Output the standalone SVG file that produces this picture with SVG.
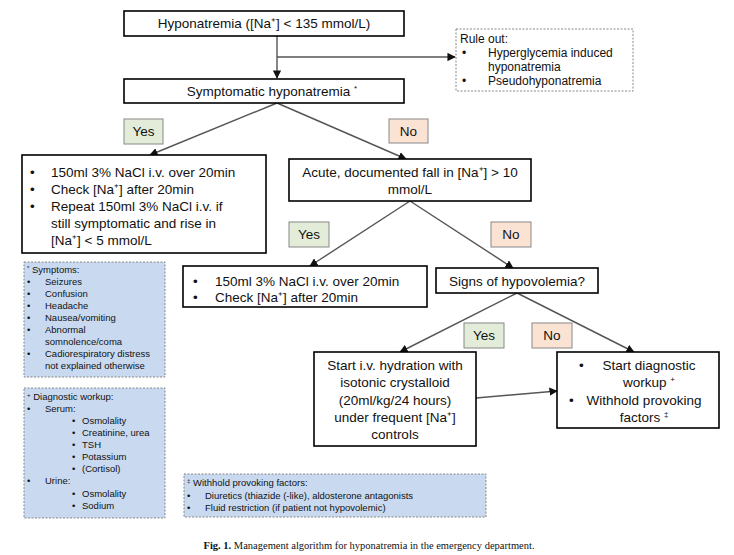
<svg xmlns="http://www.w3.org/2000/svg" width="734" height="555" viewBox="0 0 734 555">
<defs>
<style>
.b{fill:#fff;stroke:#000;stroke-width:1.6}
.d{fill:#c9daf0;stroke:#888;stroke-width:1;stroke-dasharray:2 1.5}
.r{fill:#fff;stroke:#888;stroke-width:1;stroke-dasharray:2 1.5}
.y{fill:#e3ecd9;stroke:#888;stroke-width:1}
.n{fill:#fbe3d4;stroke:#888;stroke-width:1}
text{font-family:"Liberation Sans",Arial,sans-serif;fill:#111}
.t{font-size:13.5px}
.s{font-size:9.5px}
.c{text-anchor:middle}
.l{stroke:#555;stroke-width:1.4;fill:none}
</style>
<marker id="a" viewBox="0 0 10 10" refX="9" refY="5" markerWidth="6" markerHeight="6" orient="auto"><path d="M0,0L10,5L0,10z" fill="#111"/></marker>
</defs>
<rect width="734" height="555" fill="#fff"/>
<g id="connectors">
<line class="l" x1="277" y1="36" x2="277" y2="78" marker-end="url(#a)"/>
<line class="l" x1="277" y1="57" x2="455" y2="57" marker-end="url(#a)"/>
<line class="l" x1="277" y1="103" x2="150" y2="155" marker-end="url(#a)"/>
<line class="l" x1="277" y1="103" x2="406" y2="159" marker-end="url(#a)"/>
<line class="l" x1="410" y1="201" x2="310" y2="266" marker-end="url(#a)"/>
<line class="l" x1="410" y1="201" x2="513" y2="268" marker-end="url(#a)"/>
<line class="l" x1="517" y1="293" x2="400" y2="352" marker-end="url(#a)"/>
<line class="l" x1="517" y1="293" x2="634" y2="352" marker-end="url(#a)"/>
<line class="l" x1="476" y1="398" x2="557" y2="391" marker-end="url(#a)"/>
</g>
<g id="n1"><rect class="b" x="124" y="11" width="280" height="25"/><text class="t c" x="264" y="28">Hyponatremia ([Na⁺] &lt; 135 mmol/L)</text></g>
<g id="ruleout"><rect class="r" x="456" y="29" width="177" height="62"/>
<text class="t" x="460" y="43" style="font-size:12px">Rule out:</text>
<text class="t" x="462" y="57" style="font-size:12px">•</text><text class="t" x="488" y="57" style="font-size:12px">Hyperglycemia induced</text>
<text class="t" x="488" y="71" style="font-size:12px">hyponatremia</text>
<text class="t" x="462" y="85" style="font-size:12px">•</text><text class="t" x="488" y="85" style="font-size:12px">Pseudohyponatremia</text></g>
<g id="n2"><rect class="b" x="124" y="79" width="280" height="24"/><text class="t c" x="272" y="96">Symptomatic hyponatremia <tspan font-size="8" dy="-5">*</tspan></text></g>
<g id="yes1"><rect class="y" x="124" y="119" width="39" height="25"/><text class="t c" x="143.5" y="136">Yes</text></g>
<g id="no1"><rect class="n" x="389" y="119" width="39" height="24"/><text class="t c" x="408.5" y="136">No</text></g>
<g id="n3"><rect class="b" x="22" y="155" width="244" height="98"/>
<text class="t" x="30" y="177">•</text><text class="t" x="51" y="177">150ml 3% NaCl i.v. over 20min</text>
<text class="t" x="30" y="194">•</text><text class="t" x="51" y="194">Check [Na⁺] after 20min</text>
<text class="t" x="30" y="211">•</text><text class="t" x="51" y="211">Repeat 150ml 3% NaCl i.v. if</text>
<text class="t" x="51" y="228">still symptomatic and rise in</text>
<text class="t" x="51" y="245">[Na⁺] &lt; 5 mmol/L</text></g>
<g id="n4"><rect class="b" x="289" y="159" width="242" height="42"/>
<text class="t c" x="410" y="177">Acute, documented fall in [Na⁺] &gt; 10</text>
<text class="t c" x="410" y="194">mmol/L</text></g>
<g id="yes2"><rect class="y" x="289" y="222" width="40" height="25"/><text class="t c" x="309" y="239">Yes</text></g>
<g id="no2"><rect class="n" x="491" y="222" width="40" height="25"/><text class="t c" x="511" y="239">No</text></g>
<g id="n5"><rect class="b" x="183" y="266" width="244" height="41"/>
<text class="t" x="193" y="286">•</text><text class="t" x="215" y="286">150ml 3% NaCl i.v. over 20min</text>
<text class="t" x="193" y="302">•</text><text class="t" x="215" y="302">Check [Na⁺] after 20min</text></g>
<g id="n6"><rect class="b" x="436" y="268" width="162" height="25"/><text class="t c" x="517" y="286">Signs of hypovolemia?</text></g>
<g id="yes3"><rect class="y" x="464" y="323" width="40" height="25"/><text class="t c" x="484" y="340">Yes</text></g>
<g id="no3"><rect class="n" x="532" y="323" width="40" height="25"/><text class="t c" x="552" y="340">No</text></g>
<g id="n7"><rect class="b" x="314" y="352" width="162" height="94"/>
<text class="t c" x="395" y="370">Start i.v. hydration with</text>
<text class="t c" x="395" y="387">isotonic crystalloid</text>
<text class="t c" x="395" y="405">(20ml/kg/24 hours)</text>
<text class="t c" x="395" y="422">under frequent [Na⁺]</text>
<text class="t c" x="395" y="439">controls</text></g>
<g id="n8"><rect class="b" x="557" y="352" width="162" height="76"/>
<text class="t" x="579" y="370">•</text><text class="t c" x="649" y="370">Start diagnostic</text>
<text class="t c" x="649" y="387">workup <tspan font-size="8" dy="-5">+</tspan></text>
<text class="t" x="569" y="405">•</text><text class="t c" x="644" y="405">Withhold provoking</text>
<text class="t c" x="644" y="422">factors <tspan font-size="8" dy="-5">‡</tspan></text></g>
<g id="symptoms"><rect class="d" x="24" y="262" width="141" height="115"/>
<text class="s" x="27" y="273"><tspan font-size="6" dy="-3">*</tspan><tspan dy="3"> Symptoms:</tspan></text>
<text class="s" x="27" y="285">•</text><text class="s" x="45" y="285">Seizures</text>
<text class="s" x="27" y="297">•</text><text class="s" x="45" y="297">Confusion</text>
<text class="s" x="27" y="309">•</text><text class="s" x="45" y="309">Headache</text>
<text class="s" x="27" y="321">•</text><text class="s" x="45" y="321">Nausea/vomiting</text>
<text class="s" x="27" y="333">•</text><text class="s" x="45" y="333">Abnormal</text>
<text class="s" x="45" y="345">somnolence/coma</text>
<text class="s" x="27" y="357">•</text><text class="s" x="45" y="357">Cadiorespiratory distress</text>
<text class="s" x="45" y="369">not explained otherwise</text></g>
<g id="workup"><rect class="d" x="24" y="388" width="141" height="130"/>
<text class="s" x="27" y="400"><tspan font-size="6" dy="-3">+</tspan><tspan dy="3"> Diagnostic workup:</tspan></text>
<text class="s" x="27" y="412">•</text><text class="s" x="45" y="412">Serum:</text>
<text class="s" x="72" y="424">•</text><text class="s" x="82" y="424">Osmolality</text>
<text class="s" x="72" y="436">•</text><text class="s" x="82" y="436">Creatinine, urea</text>
<text class="s" x="72" y="448">•</text><text class="s" x="82" y="448">TSH</text>
<text class="s" x="72" y="460">•</text><text class="s" x="82" y="460">Potassium</text>
<text class="s" x="72" y="472">•</text><text class="s" x="82" y="472">(Cortisol)</text>
<text class="s" x="27" y="484">•</text><text class="s" x="45" y="484">Urine:</text>
<text class="s" x="72" y="497">•</text><text class="s" x="82" y="497">Osmolality</text>
<text class="s" x="72" y="509">•</text><text class="s" x="82" y="509">Sodium</text></g>
<g id="withhold"><rect class="d" x="184" y="474" width="302" height="43"/>
<text class="s" x="187" y="486"><tspan font-size="6" dy="-3">‡</tspan><tspan dy="3"> Withhold provoking factors:</tspan></text>
<text class="s" x="187" y="499">•</text><text class="s" x="205" y="499">Diuretics (thiazide (-like), aldosterone antagonists</text>
<text class="s" x="187" y="511">•</text><text class="s" x="205" y="511">Fluid restriction (if patient not hypovolemic)</text></g>
<text x="369" y="549" text-anchor="middle" style="font-family:'Liberation Serif',serif;font-size:10.5px"><tspan font-weight="bold">Fig. 1.</tspan> Management algorithm for hyponatremia in the emergency department.</text>
</svg>
